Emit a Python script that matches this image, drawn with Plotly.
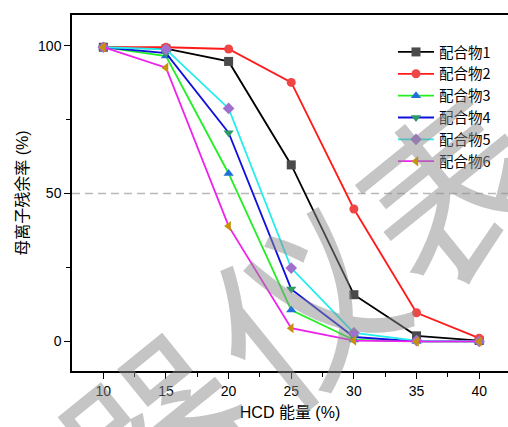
import plotly.graph_objects as go

energy = [10, 15, 20, 25, 30, 35, 40]
c1 = [99.5, 99.0, 94.7, 59.7, 15.8, 1.9, 0.3]
c2 = [99.5, 99.5, 98.9, 87.6, 44.8, 9.7, 1.1]
c3 = [99.5, 96.5, 56.8, 10.6, 0.5, 0.0, 0.0]
c4 = [99.5, 97.5, 70.6, 17.7, 1.5, 0.0, 0.0]
c5 = [99.5, 98.8, 78.8, 24.8, 2.9, 0.3, 0.0]
c6 = [99.5, 92.6, 39.0, 4.5, 0.3, 0.0, 0.0]
names = ["配合物1", "配合物2", "配合物3", "配合物4", "配合物5", "配合物6"]
series = [c1, c2, c3, c4, c5, c6]

line_colors = ["#000000", "#ff1a1a", "#22ee22", "#1010dd", "#22eeee", "#ee22ee"]
marker_colors = ["#4a4a4a", "#f04545", "#1f6fd8", "#2e9a66", "#a070d0", "#c8900f"]
symbols = ["square", "circle", "triangle-up", "triangle-down", "diamond", "triangle-left"]

FONT = "Liberation Sans, Arial, Noto Sans CJK SC, sans-serif"

W, H = 508, 427
ML, MR, MT, MB = 72, 0, 15, 56
PW, PH = W - ML - MR, H - MT - MB


def px(x):
    return (x - ML) / PW


def py(y):
    return (H - MB - y) / PH


fig = go.Figure()
for nm, ys, lc, mc, sym in zip(names, series, line_colors, marker_colors, symbols):
    fig.add_trace(go.Scatter(
        x=energy, y=ys, name=nm, mode="lines+markers",
        line=dict(color=lc, width=1.8),
        marker=dict(symbol=sym, size=9, color=mc, line=dict(width=0)),
    ))

fig.add_shape(type="line", xref="paper", yref="y", x0=0, x1=1, y0=50, y1=50,
              line=dict(color="#b8b8b8", width=1.5, dash="8px,5px"), layer="below")

# watermark characters
wm_chars = ["器", "仪", "表"]
wm_pos = [(150, 425), (298, 300), (446, 185)]
for ch, (cx, cy) in zip(wm_chars, wm_pos):
    fig.add_annotation(text=ch, xref="paper", yref="paper",
                       x=px(cx), y=py(cy), xanchor="center", yanchor="middle",
                       showarrow=False, textangle=-39,
                       font=dict(size=180, color="rgba(140,140,140,0.5)",
                                 family="Noto Sans CJK SC"))

fig.update_layout(
    width=W, height=H,
    margin=dict(l=ML, r=MR, t=MT, b=MB),
    plot_bgcolor="white", paper_bgcolor="white",
    font=dict(family=FONT, size=14, color="#000000"),
    showlegend=True,
    legend=dict(x=px(393), y=py(36), xanchor="left", yanchor="top",
                bgcolor="rgba(0,0,0,0)", font=dict(size=14.5, family="Noto Sans CJK SC, Liberation Sans"),
                itemwidth=36, tracegroupgap=0),
    xaxis=dict(range=[7.5, 42.3], tickvals=[10, 15, 20, 25, 30, 35, 40],
               showline=True, linecolor="black", linewidth=1.5, mirror=True,
               ticks="outside", ticklen=6, tickwidth=1.2, tickcolor="black",
               minor=dict(tickvals=[12.5, 17.5, 22.5, 27.5, 32.5, 37.5, 42.5], ticks="outside", ticklen=4, tickcolor="black"),
               showgrid=False, zeroline=False, automargin=False,
               title=dict(text="HCD 能量 (%)", font=dict(size=16, family=FONT), standoff=9)),
    yaxis=dict(range=[-10, 110.4], tickvals=[0, 50, 100],
               showline=True, linecolor="black", linewidth=1.5, mirror=False,
               ticks="outside", ticklen=6, tickwidth=1.2, tickcolor="black",
               minor=dict(tickvals=[25, 75], ticks="outside", ticklen=4, tickcolor="black"),
               showgrid=False, zeroline=False, automargin=False,
               title=dict(text="母离子残余率 (%)", font=dict(size=16, family=FONT), standoff=5)),
)

fig.write_html("out.html", config={"displayModeBar": False},
               post_script="document.body.style.margin='0';")
